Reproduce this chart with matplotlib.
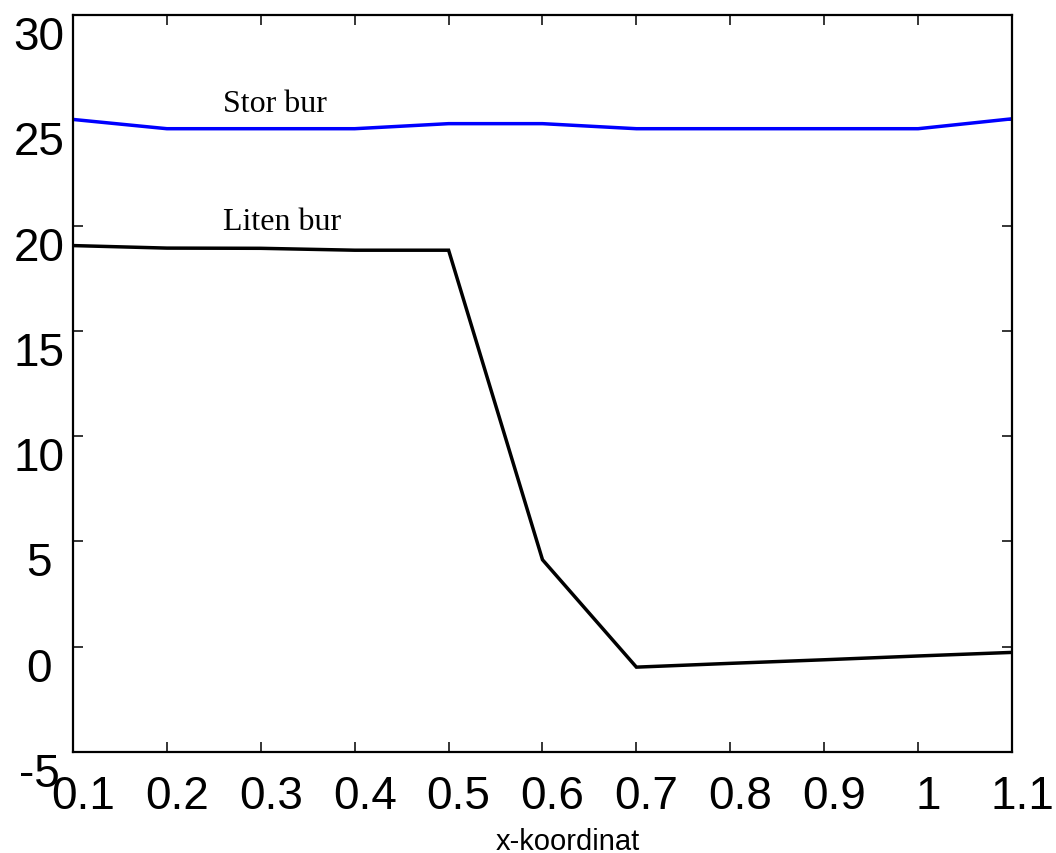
import matplotlib
matplotlib.use("Agg")
import matplotlib.pyplot as plt
from matplotlib.transforms import ScaledTranslation

x_vals = [0.1, 0.2, 0.3, 0.4, 0.5, 0.6, 0.7, 0.8, 0.9, 1.0, 1.1]
stor_bur = [25.04, 24.6, 24.6, 24.6, 24.84, 24.84, 24.6, 24.6, 24.6, 24.6, 25.07]
liten_bur = [19.05, 18.93, 18.92, 18.83, 18.83, 4.13, -0.97, -0.79, -0.62, -0.44, -0.27]
x_ticks = [0.1, 0.2, 0.3, 0.4, 0.5, 0.6, 0.7, 0.8, 0.9, 1.0, 1.1]
x_tick_labels = ["0.1", "0.2", "0.3", "0.4", "0.5", "0.6", "0.7", "0.8", "0.9", "1", "1.1"]
y_ticks = [-5, 0, 5, 10, 15, 20, 25, 30]
y_tick_labels = ["-5", "0", "5", "10", "15", "20", "25", "30"]

plt.rcParams['font.family'] = ['Liberation Sans', 'DejaVu Sans']

fig = plt.figure(figsize=(10.56, 8.54), dpi=100)
ax = fig.add_axes([73/1056, 101/854, 939/1056, 737/854])

ax.plot(x_vals, stor_bur, color=(0, 0, 1), lw=2.5, solid_joinstyle='miter')
ax.plot(x_vals, liten_bur, color='black', lw=2.5, solid_joinstyle='miter')

ax.text(0.26, 25.45, "Stor bur", family='Liberation Serif', fontsize=23, ha='left', va='baseline')
ax.text(0.26, 19.85, "Liten bur", family='Liberation Serif', fontsize=23, ha='left', va='baseline')

ax.set_xlim(0.1, 1.1)
ax.set_ylim(-5, 30)
ax.set_xticks(x_ticks)
ax.set_xticklabels(x_tick_labels)
ax.set_yticks(y_ticks)
ax.set_yticklabels(y_tick_labels)

ax.tick_params(axis='both', direction='in', length=7, width=1.1, top=True, right=True,
               labelsize=33)
ax.tick_params(axis='x', pad=15.5)
ax.tick_params(axis='y', pad=24.5)
for sp in ax.spines.values():
    sp.set_linewidth(1.6)

for lab in ax.get_yticklabels():
    lab.set_horizontalalignment('center')
    lab.set_verticalalignment('top')

off = ScaledTranslation(10/100, 0, fig.dpi_scale_trans)
for lab in ax.get_xticklabels():
    lab.set_transform(lab.get_transform() + off)

ax.set_xlabel("x-koordinat", fontsize=21)
ax.xaxis.set_label_coords(0.527, -0.131)
ax.xaxis.label.set_verticalalignment('baseline')

fig.savefig("out.png", dpi=100)
